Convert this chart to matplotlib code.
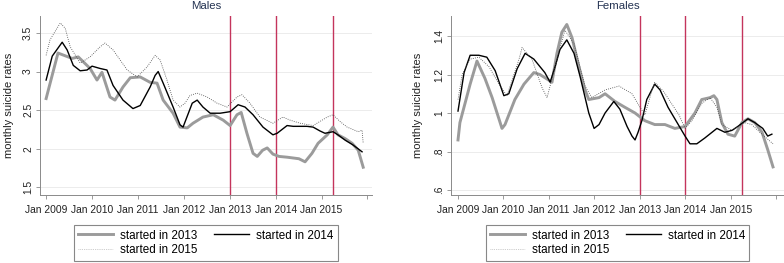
import matplotlib
matplotlib.use("Agg")
import matplotlib.pyplot as plt
from matplotlib.lines import Line2D

plt.rcParams['font.family'] = ['Liberation Sans', 'DejaVu Sans']

# months since Jan 2009
tick_months = [0, 12, 24, 36, 48, 60, 72, 84]
tick_labels = ["Jan 2009", "Jan 2010", "Jan 2011", "Jan 2012", "Jan 2013", "Jan 2014", "Jan 2015", ""]
event_months = [48, 60, 75]

# ---- Males ----
m13_t = [0, 3.1, 6.8, 8.4, 11.5, 13.3, 14.6, 16.7, 18.0, 20.1, 22.0, 24.6, 27.2, 29.0, 30.6, 33.2, 35.0, 36.9,
         38.4, 41.0, 43.7, 46.3, 48.1, 49.9, 51.0, 52.5, 54.1, 55.2, 56.6, 57.8, 59.3, 60.9, 63.0, 66.1, 67.7,
         69.5, 71.1, 73.5, 75.0, 76.3, 78.2, 80.0, 81.6, 82.9]
m13_v = [2.65, 3.24, 3.17, 3.19, 3.04, 2.89, 2.99, 2.67, 2.63, 2.80, 2.92, 2.93, 2.86, 2.85, 2.63, 2.46, 2.28, 2.27,
         2.33, 2.41, 2.44, 2.37, 2.30, 2.44, 2.47, 2.20, 1.94, 1.90, 1.98, 2.01, 1.93, 1.90, 1.89, 1.87, 1.83,
         1.94, 2.07, 2.18, 2.28, 2.18, 2.13, 2.07, 1.98, 1.76]
m14_t = [0, 1.6, 4.2, 5.5, 7.1, 8.9, 10.7, 12.0, 14.1, 15.9, 17.5, 20.1, 22.7, 24.6, 27.2, 28.5, 29.3, 30.6, 33.2,
         35.0, 35.8, 38.2, 39.5, 41.0, 42.9, 45.5, 48.1, 50.2, 52.0, 54.1, 56.7, 59.3, 60.4, 63.0, 64.6, 68.2,
         69.8, 71.6, 72.9, 75.0, 76.3, 78.2, 80.2, 82.6]
m14_v = [2.89, 3.20, 3.38, 3.28, 3.08, 3.01, 3.02, 3.07, 3.04, 3.02, 2.82, 2.63, 2.52, 2.56, 2.80, 2.95, 3.00, 2.85,
         2.54, 2.31, 2.28, 2.59, 2.63, 2.54, 2.46, 2.46, 2.48, 2.57, 2.54, 2.44, 2.28, 2.18, 2.20, 2.30, 2.29,
         2.29, 2.28, 2.23, 2.20, 2.22, 2.18, 2.11, 2.05, 1.96]
m15_t = [0, 1.0, 3.7, 5.0, 6.3, 8.9, 11.5, 14.1, 15.4, 17.5, 21.2, 23.8, 26.4, 28.5, 29.8, 31.6, 33.2, 35.0, 36.3,
         37.6, 39.5, 42.1, 44.7, 47.3, 49.9, 51.2, 53.3, 55.9, 59.3, 61.9, 63.8, 66.4, 69.8, 73.5, 75.0, 76.9,
         78.7, 81.6, 82.6, 82.9]
m15_v = [3.21, 3.41, 3.63, 3.56, 3.32, 3.11, 3.19, 3.32, 3.37, 3.28, 3.02, 2.93, 3.06, 3.21, 3.15, 2.89, 2.63, 2.54,
         2.59, 2.69, 2.72, 2.67, 2.59, 2.54, 2.67, 2.70, 2.59, 2.41, 2.33, 2.41, 2.37, 2.33, 2.30, 2.41, 2.44,
         2.35, 2.28, 2.22, 2.24, 2.07]

# ---- Females ----
f13_t = [0, 0.5, 3.2, 5.0, 7.1, 9.0, 11.6, 12.4, 15.0, 17.4, 20.0, 21.6, 24.0, 24.8, 26.1, 27.4, 28.7, 30.1, 31.9,
         33.5, 34.5, 37.2, 38.8, 41.4, 44.0, 46.7, 49.3, 51.9, 54.6, 57.2, 59.9, 62.5, 64.3, 66.5, 67.5, 68.3,
         69.6, 71.2, 73.0, 74.9, 76.5, 78.3, 80.2, 81.7, 83.1]
f13_v = [0.86, 0.95, 1.15, 1.27, 1.18, 1.08, 0.92, 0.94, 1.07, 1.15, 1.21, 1.20, 1.17, 1.16, 1.31, 1.42, 1.46, 1.39,
         1.24, 1.12, 1.07, 1.08, 1.10, 1.06, 1.03, 1.00, 0.96, 0.94, 0.94, 0.92, 0.93, 1.00, 1.07, 1.08, 1.09,
         1.07, 0.95, 0.89, 0.88, 0.95, 0.97, 0.95, 0.90, 0.81, 0.72]
f14_t = [0, 1.6, 3.2, 5.5, 7.6, 9.8, 12.1, 13.4, 15.6, 17.7, 20.0, 22.9, 24.3, 25.6, 26.9, 28.7, 30.6, 32.2, 34.5,
         35.9, 37.2, 38.8, 41.1, 42.7, 44.6, 45.9, 46.7, 47.5, 48.5, 49.8, 51.9, 53.3, 55.4, 57.8, 59.9, 61.2,
         63.0, 65.1, 68.3, 70.4, 72.3, 73.8, 76.5, 78.3, 80.4, 81.7, 82.8]
f14_v = [1.01, 1.21, 1.30, 1.30, 1.29, 1.22, 1.09, 1.10, 1.23, 1.31, 1.28, 1.21, 1.16, 1.24, 1.33, 1.38, 1.31, 1.19,
         1.00, 0.92, 0.94, 1.00, 1.06, 1.02, 0.93, 0.88, 0.86, 0.90, 0.96, 1.07, 1.15, 1.12, 1.03, 0.95, 0.88,
         0.84, 0.84, 0.87, 0.92, 0.90, 0.91, 0.93, 0.97, 0.95, 0.92, 0.88, 0.89]
f15_t = [0, 1.1, 3.2, 5.5, 8.2, 10.8, 12.9, 16.1, 16.9, 19.5, 22.2, 23.5, 25.6, 28.2, 30.6, 33.5, 35.3, 38.8, 42.5,
         45.9, 48.0, 49.3, 51.2, 51.9, 54.3, 58.3, 59.9, 61.7, 64.3, 66.5, 68.3, 69.6, 72.3, 75.7, 77.5, 79.6, 83.1]
f15_v = [1.07, 1.20, 1.28, 1.29, 1.24, 1.15, 1.09, 1.28, 1.34, 1.28, 1.13, 1.08, 1.24, 1.43, 1.36, 1.14, 1.08,
         1.12, 1.14, 1.10, 1.03, 0.99, 1.12, 1.16, 1.11, 0.99, 0.92, 0.96, 1.05, 1.08, 1.03, 0.94, 0.91, 0.95,
         0.94, 0.90, 0.84]

panels = [
    dict(title="Males", s13=(m13_t, m13_v), s14=(m14_t, m14_v), s15=(m15_t, m15_v),
         yticks=[1.5, 2, 2.5, 3, 3.5], ylabels=["1.5", "2", "2.5", "3", "3.5"], ylim=(1.40, 3.72),
         pos=[40/784, 68/263, 332/784, 179/263], xlim=(-1.6, 85.2), ylab_x=-0.078),
    dict(title="Females", s13=(f13_t, f13_v), s14=(f14_t, f14_v), s15=(f15_t, f15_v),
         yticks=[0.6, 0.8, 1.0, 1.2, 1.4], ylabels=[".6", ".8", "1", "1.2", "1.4"], ylim=(0.574, 1.504),
         pos=[451/784, 68/263, 333/784, 179/263], xlim=(-1.85, 86.0), ylab_x=-0.084),
]

fig = plt.figure(figsize=(7.84, 2.63), dpi=100)
fig.patch.set_facecolor('white')

axis_gray = '#8a8a8a'
for p in panels:
    ax = fig.add_axes(p['pos'])
    ax.set_facecolor('white')
    for yt in p['yticks']:
        ax.axhline(yt, color='#ececec', lw=0.7, zorder=0)
    for em in event_months:
        ax.axvline(em, color='#c4345c', lw=1.0, zorder=1)
    ax.plot(*p['s13'], color='#9b9b9b', lw=2.1, zorder=2, solid_joinstyle='round')
    ax.plot(*p['s14'], color='black', lw=1.0, zorder=3)
    ax.plot(*p['s15'], color='#444444', lw=0.6, ls=(0, (1, 1.6)), zorder=4)
    ax.set_xlim(*p['xlim'])
    ax.set_ylim(*p['ylim'])
    ax.set_xticks(tick_months)
    ax.set_xticklabels(tick_labels, fontsize=7.4, color='#222222')
    ax.set_yticks(p['yticks'])
    ax.set_yticklabels(p['ylabels'], fontsize=7.4, rotation=90, va='center', color='#222222')
    ax.tick_params(axis='both', length=3, width=0.6, color=axis_gray, direction='out')
    ax.tick_params(axis='x', pad=4)
    ax.tick_params(axis='y', pad=2)
    for s in ['top', 'right']:
        ax.spines[s].set_visible(False)
    for s in ['left', 'bottom']:
        ax.spines[s].set_color(axis_gray)
        ax.spines[s].set_linewidth(0.7)
    ax.set_title(p['title'], fontsize=8.2, color='#243352', pad=5)
    ax.set_ylabel("monthly suicide rates", fontsize=8.0, color='#222222')
    ax.yaxis.set_label_coords(p['ylab_x'], 0.5)
    h13 = Line2D([], [], color='#9b9b9b', lw=2.1)
    h14 = Line2D([], [], color='black', lw=1.0)
    h15 = Line2D([], [], color='#bbbbbb', lw=0.6, ls=(0, (1, 1.2)))
    leg = ax.legend([h13, h15, h14], ["started in 2013", "started in 2015", "started in 2014"],
                    loc='upper center', bbox_to_anchor=(0.5, -0.17), ncol=2, fontsize=8.4,
                    frameon=True, fancybox=False, edgecolor='#888888', framealpha=1,
                    handlelength=3.0, handletextpad=0.6, columnspacing=1.4, labelspacing=0.25,
                    borderpad=0.35, borderaxespad=0)
    leg.get_frame().set_linewidth(0.8)

fig.savefig("out.png", dpi=100, facecolor='white')
